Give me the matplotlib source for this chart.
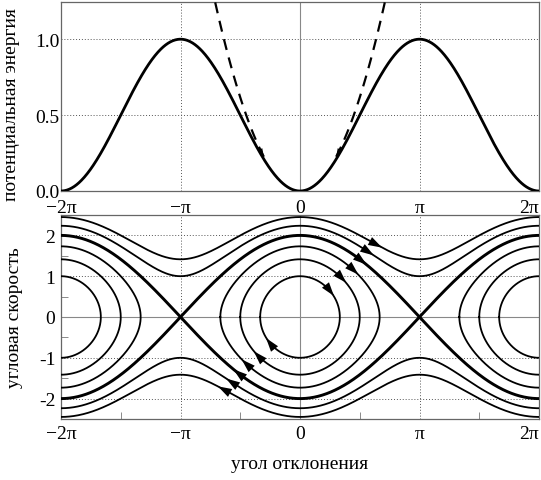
import numpy as np
import matplotlib.pyplot as plt
from matplotlib.ticker import MultipleLocator

plt.rcParams['font.family'] = ['Liberation Serif', 'DejaVu Serif']

# x ticks (in units of pi) and labels
x_ticks = [-2, -1, 0, 1, 2]
x_labels = ['−2π', '−π', '0', 'π', '2π']
top_yticks = [0.0, 0.5, 1.0]
bot_yticks = [-2, -1, 0, 1, 2]

# squared angular velocity at x=0 for each phase trajectory (4 = separatrix)
w0_sq = [1, 2, 3, 4, 5, 6]
# x positions of flow arrows (units of pi), one per trajectory
arrow_x = [0.26, 0.36, 0.46, 0.527, 0.586, 0.653]

# dashed parabola range (|x|)
para_x = [0.95, 2.35]

fig = plt.figure(figsize=(5.41, 4.81), dpi=100)
ax1 = fig.add_axes([61 / 541, 1 - 192 / 481, 478 / 541, 189 / 481])
ax2 = fig.add_axes([61 / 541, 1 - 420 / 481, 478 / 541, 204 / 481])

PI = np.pi
grid_kw = dict(color='#555555', lw=0.7, ls=(0, (1, 2)))
zero_kw = dict(color='#888888', lw=0.8)

# ---- top: potential energy
x = np.linspace(-2 * PI, 2 * PI, 800)
ax1.plot(x, (1 - np.cos(x)) / 2, color='k', lw=2.0, zorder=3)
for s in [-1, 1]:
    xp = s * np.linspace(para_x[0], para_x[1], 100)
    ax1.plot(xp, xp ** 2 / 4, color='k', lw=1.6, ls=(0, (5, 3.5)), zorder=3)
    xa = s * para_x[0]
    ax1.annotate('', xy=(xa, xa ** 2 / 4), xytext=(xa + s * 0.05, (xa + s * 0.05) ** 2 / 4),
                 arrowprops=dict(arrowstyle='-|>,head_length=0.6,head_width=0.18',
                                 color='k', lw=0, shrinkA=0, shrinkB=0))
for v in [-PI, PI]:
    ax1.axvline(v, **grid_kw)
for v in [0.5, 1.0]:
    ax1.axhline(v, **grid_kw)
ax1.axvline(0, **zero_kw)
ax1.set_xlim(-2 * PI, 2 * PI)
ax1.set_ylim(0, 1.245)
ax1.set_xticks([t * PI for t in x_ticks])
ax1.set_xticklabels(x_labels)
ax1.set_yticks(top_yticks)
ax1.set_yticklabels(['%.1f' % v for v in top_yticks])
ax1.tick_params(axis='x', length=0, labelsize=14, pad=6)
ax1.tick_params(axis='y', length=0, labelsize=14, pad=1)
ax1.set_ylabel('потенциальная энергия', fontsize=14)
ax1.yaxis.set_label_coords(-0.085, 0.46)

# ---- bottom: phase portrait
for c in w0_sq:
    lw = 2.1 if c == 4 else 1.3
    if c < 4:
        xm = np.arccos(1 - c / 2)
        th = np.linspace(-PI / 2, PI / 2, 400)
        xs = xm * np.sin(th)
        w = np.sqrt(np.clip(c - 2 * (1 - np.cos(xs)), 0, None))
        for cx in [-2 * PI, 0, 2 * PI]:
            xx = np.concatenate([xs, xs[::-1]]) + cx
            ww = np.concatenate([w, -w[::-1]])
            ax2.plot(xx, ww, color='k', lw=lw, zorder=3)
    else:
        w = np.sqrt(np.clip(c - 2 + 2 * np.cos(x), 0, None))
        ax2.plot(x, w, color='k', lw=lw, zorder=3)
        ax2.plot(x, -w, color='k', lw=lw, zorder=3)

for c, xa in zip(w0_sq, arrow_x):
    for s in [1, -1]:
        xp = s * xa * PI
        wp = s * np.sqrt(max(c - 2 * (1 - np.cos(xp)), 0))
        dx, dy = wp, -np.sin(xp)
        n = np.hypot(dx, dy)
        dx, dy = dx / n * 0.12, dy / n * 0.12
        ax2.annotate('', xy=(xp + dx, wp + dy), xytext=(xp, wp),
                     arrowprops=dict(arrowstyle='-|>,head_length=1.0,head_width=0.32',
                                     color='k', lw=0, shrinkA=0, shrinkB=0), zorder=4)

for v in [-PI, PI]:
    ax2.axvline(v, **grid_kw)
for v in [-2, -1, 1, 2]:
    ax2.axhline(v, **grid_kw)
ax2.axvline(0, **zero_kw)
ax2.axhline(0, **zero_kw)
ax2.set_xlim(-2 * PI, 2 * PI)
ax2.set_ylim(-2.5, 2.5)
ax2.set_xticks([t * PI for t in x_ticks])
ax2.set_xticklabels(x_labels)
ax2.xaxis.set_minor_locator(MultipleLocator(PI / 2))
ax2.set_yticks(bot_yticks)
ax2.set_yticklabels([str(v) for v in bot_yticks])
ax2.yaxis.set_minor_locator(MultipleLocator(0.5))
ax2.tick_params(which='major', length=0, labelsize=14, pad=4)
ax2.tick_params(which='minor', direction='in', length=5, color='#777777')
ax2.set_ylabel('угловая скорость', fontsize=14)
ax2.yaxis.set_label_coords(-0.08, 0.5)
ax2.set_xlabel('угол отклонения', fontsize=14, labelpad=10)

for ax in [ax1, ax2]:
    for sp in ax.spines.values():
        sp.set_color('#666666')
        sp.set_linewidth(0.9)
    # keep the edge labels inside the figure
    ax.get_xticklabels()[-1].set_horizontalalignment('right')
    ax.get_xticklabels()[-1].set_x(2.15 * PI)

fig.savefig('out.png', dpi=100)
